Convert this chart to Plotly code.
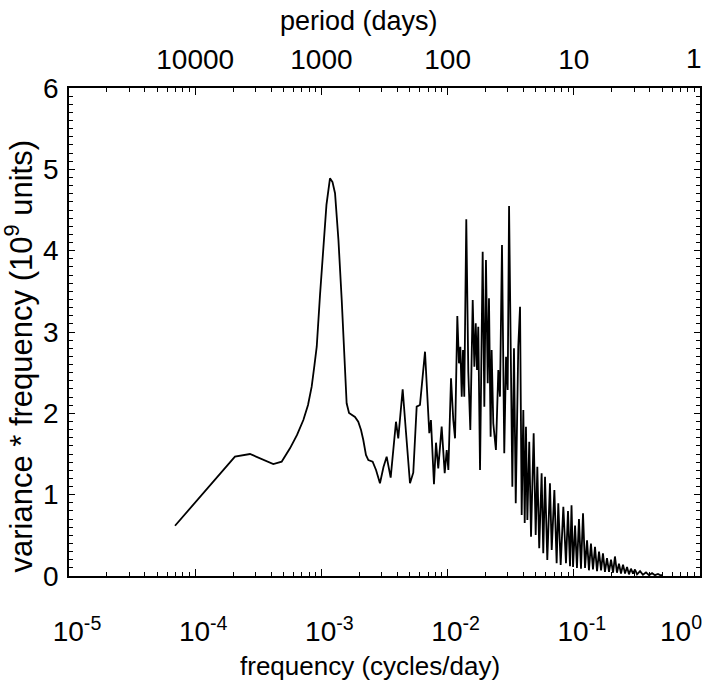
import plotly.graph_objects as go
import numpy as np

# frequency, stored as log10(cycles/day)
log10_freq = [
    -4.160, -3.922, -3.685, -3.566, -3.471, -3.381, -3.315, -3.249, -3.193, -3.143,
    -3.106, -3.077, -3.055, -3.037, -3.011, -2.985, -2.960, -2.932, -2.912, -2.892,
    -2.865, -2.839, -2.817, -2.800, -2.781, -2.760, -2.734, -2.708, -2.686, -2.668,
    -2.647, -2.628, -2.594, -2.567, -2.536, -2.508, -2.483, -2.451, -2.425, -2.409,
    -2.391, -2.356, -2.330, -2.298, -2.272, -2.245, -2.219, -2.179, -2.145, -2.132,
    -2.108, -2.092, -2.074, -2.047, -2.023, -2.007, -1.994, -1.973,
    -1.955, -1.941, -1.923, -1.910, -1.899, -1.888, -1.878, -1.868, -1.852, -1.836,
    -1.820, -1.801, -1.788, -1.777, -1.767, -1.757, -1.743, -1.722, -1.709, -1.696,
    -1.682, -1.672, -1.659, -1.651, -1.638, -1.617, -1.598, -1.585, -1.569, -1.551,
    -1.537, -1.524, -1.513, -1.500, -1.487, -1.474, -1.460, -1.440, -1.426, -1.413,
    -1.400, -1.389, -1.379, -1.368, -1.353, -1.339, -1.318, -1.302, -1.289, -1.274,
    -1.255, -1.242, -1.228, -1.210, -1.189, -1.175, -1.154, -1.136, -1.123, -1.104,
    -1.083, -1.062, -1.046, -1.030, -1.018, -1.006, -0.990, -0.975, -0.959, -0.943,
    -0.927, -0.911, -0.895, -0.880, -0.864, -0.848, -0.832, -0.816, -0.800, -0.784,
    -0.769, -0.753, -0.737, -0.721, -0.705, -0.689, -0.674, -0.658, -0.642, -0.626,
    -0.610, -0.594, -0.578, -0.563, -0.547, -0.531, -0.515, -0.499, -0.475, -0.452,
    -0.428, -0.404, -0.380, -0.357, -0.333, -0.309, -0.301,
]

# variance * frequency (10^9 units)
var_freq = [
    0.618, 1.039, 1.467, 1.500, 1.439, 1.377, 1.405, 1.570, 1.734, 1.918,
    2.103, 2.328, 2.594, 2.819, 3.455, 4.091, 4.562, 4.890, 4.844, 4.706,
    4.131, 3.394, 2.656, 2.123, 2.004, 1.980, 1.955, 1.897, 1.795, 1.672,
    1.488, 1.426, 1.405, 1.303, 1.140, 1.340, 1.467, 1.209, 1.672, 1.897,
    1.693, 2.296, 1.774, 1.140, 1.270, 2.082, 2.103, 2.758, 1.755, 1.918,
    1.128, 1.639, 1.324, 1.836, 1.263, 1.549, 1.303, 2.431,
    1.918, 1.693, 3.197, 2.615, 2.819, 2.205, 2.779, 2.205, 4.386, 2.512,
    1.795, 3.394, 2.573, 3.107, 2.533, 3.065, 1.303, 3.987, 2.082, 3.885,
    2.369, 3.414, 1.713, 2.779, 1.878, 1.549, 2.533, 2.205, 4.070, 1.509,
    2.696, 2.287, 4.549, 2.615, 1.098, 2.800, 0.894, 2.819, 3.311, 0.750,
    2.041, 0.652, 1.836, 0.689, 1.651, 0.483, 1.755, 0.504, 1.344, 0.341,
    1.263, 0.279, 1.221, 0.197, 1.140, 0.320, 1.057, 0.156, 0.894, 0.135,
    0.852, 0.156, 0.80, 0.12, 0.87, 0.11, 0.62, 0.10, 0.70, 0.09,
    0.77, 0.10, 0.44, 0.07, 0.40, 0.08, 0.36, 0.06, 0.30, 0.07,
    0.28, 0.05, 0.22, 0.05, 0.20, 0.04, 0.24, 0.04, 0.15, 0.03,
    0.14, 0.03, 0.11, 0.02, 0.09, 0.03, 0.08, 0.02, 0.06, 0.015,
    0.045, 0.01, 0.035, 0.01, 0.025, 0.005, 0.015,
]

freq_ticks = [1e-5, 1e-4, 1e-3, 1e-2, 1e-1, 1e0]
freq_ticktext = ["10<sup>-5</sup>", "10<sup>-4</sup>", "10<sup>-3</sup>",
                 "10<sup>-2</sup>", "10<sup>-1</sup>", "10<sup>0</sup>"]
period_ticks = [1e-4, 1e-3, 1e-2, 1e-1, 1e0]
period_ticktext = ["10000", "1000", "100", "10", "1"]
y_ticks = [0, 1, 2, 3, 4, 5, 6]

freq = 10 ** np.array(log10_freq)
minor_x = [m * 10.0 ** e for e in range(-5, 0) for m in range(2, 10)]

FONT = "Liberation Sans, Arial, sans-serif"

fig = go.Figure()
fig.add_trace(go.Scatter(x=freq, y=var_freq, mode="lines",
                         line=dict(color="black", width=1.8),
                         showlegend=False, hoverinfo="skip"))
# same series attached to the top/right axes (invisible) so those axes render
fig.add_trace(go.Scatter(x=freq, y=var_freq, mode="lines", xaxis="x2", yaxis="y2",
                         line=dict(color="black", width=1.8), opacity=0,
                         showlegend=False, hoverinfo="skip"))

axis_common = dict(showline=True, linecolor="black", linewidth=1.5,
                   showgrid=False, zeroline=False, ticks="inside",
                   tickcolor="black", tickwidth=1.2, ticklabeloverflow="allow",
                   automargin=False)
minor_x_cfg = dict(tickmode="array", tickvals=minor_x, ticks="inside",
                   ticklen=4, tickcolor="black", tickwidth=1.2)
minor_y_cfg = dict(dtick=0.1, ticks="inside", ticklen=4,
                   tickcolor="black", tickwidth=1.2)

# the labels at the right-hand end of each x axis are placed so they stay inside the page
bottom_text = freq_ticktext[:-1] + [""]
top_text = period_ticktext[:-1] + [""]

fig.update_layout(
    width=704, height=681,
    margin=dict(l=69, r=4, t=88, b=105, autoexpand=False),
    paper_bgcolor="white", plot_bgcolor="white",
    font=dict(family=FONT, size=28, color="black"),
    xaxis=dict(type="log", range=[-5, 0], tickmode="array",
               tickvals=freq_ticks, ticktext=bottom_text, ticklen=7,
               ticklabelshift=8, ticklabelstandoff=30,
               minor=minor_x_cfg, **axis_common),
    xaxis2=dict(type="log", range=[-5, 0], overlaying="x", side="top",
                tickmode="array", tickvals=period_ticks, ticktext=top_text,
                ticklen=7, ticklabelstandoff=6,
                minor=minor_x_cfg, **axis_common),
    yaxis=dict(range=[0, 6], tickmode="array", tickvals=y_ticks, ticklen=6,
               ticklabelstandoff=3, minor=minor_y_cfg, **axis_common),
    yaxis2=dict(range=[0, 6], overlaying="y", side="right", tickmode="array",
                tickvals=y_ticks, ticklen=6, showticklabels=False,
                minor=minor_y_cfg, **axis_common),
    annotations=[
        dict(text=freq_ticktext[-1], xref="paper", yref="paper",
             x=1.0, y=-0.108, xanchor="right", yanchor="middle", xshift=4,
             showarrow=False, font=dict(size=28)),
        dict(text=period_ticktext[-1], xref="paper", yref="paper",
             x=1.0, y=1.06, xanchor="right", yanchor="middle", xshift=4,
             showarrow=False, font=dict(size=28)),
        dict(text="frequency (cycles/day)", xref="paper", yref="paper",
             x=0.477, y=-0.184, xanchor="center", yanchor="middle",
             showarrow=False, font=dict(size=26)),
        dict(text="period (days)", xref="paper", yref="paper",
             x=0.46, y=1.137, xanchor="center", yanchor="middle",
             showarrow=False, font=dict(size=27)),
        dict(text="variance * frequency (10<sup>9</sup> units)", xref="paper",
             yref="paper", x=-0.079, y=0.45, xanchor="center", yanchor="middle",
             textangle=-90, showarrow=False, font=dict(size=31)),
    ],
)

fig.write_html("out.html")
